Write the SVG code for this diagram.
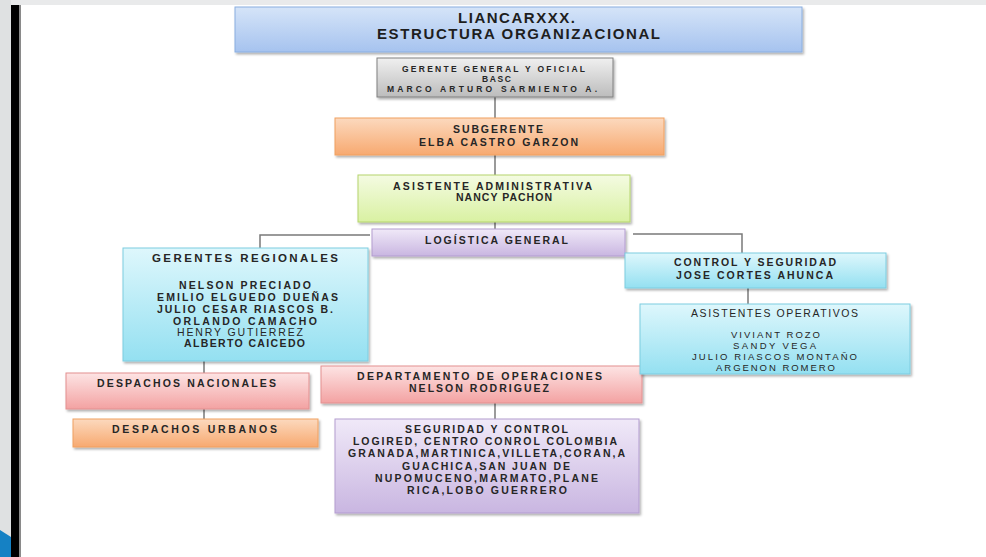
<svg xmlns="http://www.w3.org/2000/svg" width="986" height="557" viewBox="0 0 986 557">
<defs>
<linearGradient id="gBlue" x1="0" y1="0" x2="0" y2="1"><stop offset="0" stop-color="#d5e4f8"/><stop offset="1" stop-color="#a6c3ef"/></linearGradient>
<linearGradient id="gGrey" x1="0" y1="0" x2="0" y2="1"><stop offset="0" stop-color="#f0f0f0"/><stop offset="1" stop-color="#bcbcbc"/></linearGradient>
<linearGradient id="gOrange" x1="0" y1="0" x2="0" y2="1"><stop offset="0" stop-color="#fcd9be"/><stop offset="1" stop-color="#f7a970"/></linearGradient>
<linearGradient id="gGreen" x1="0" y1="0" x2="0" y2="1"><stop offset="0" stop-color="#f4fbe2"/><stop offset="1" stop-color="#d9f1a2"/></linearGradient>
<linearGradient id="gPurple" x1="0" y1="0" x2="0" y2="1"><stop offset="0" stop-color="#f0e9f8"/><stop offset="1" stop-color="#c9b6e1"/></linearGradient>
<linearGradient id="gCyan" x1="0" y1="0" x2="0" y2="1"><stop offset="0" stop-color="#def7fc"/><stop offset="1" stop-color="#94e0f1"/></linearGradient>
<linearGradient id="gPink" x1="0" y1="0" x2="0" y2="1"><stop offset="0" stop-color="#fde4e4"/><stop offset="1" stop-color="#f3a2a2"/></linearGradient>
<filter id="sh" x="-5%" y="-10%" width="110%" height="130%"><feDropShadow dx="1.5" dy="2" stdDeviation="1.2" flood-color="#000" flood-opacity="0.3"/></filter>
</defs>
<style>
.box{filter:url(#sh);stroke-width:1}
.blue{fill:url(#gBlue);stroke:#8aaee0}
.grey{fill:url(#gGrey);stroke:#808080}
.orange{fill:url(#gOrange);stroke:#f0a060}
.green{fill:url(#gGreen);stroke:#b5d46d}
.purple{fill:url(#gPurple);stroke:#b39dd0}
.cyan{fill:url(#gCyan);stroke:#7ccde0}
.pink{fill:url(#gPink);stroke:#e39090}
text{font-family:"Liberation Sans",Arial,sans-serif;font-size:10.5px;font-weight:bold;fill:#262626;text-anchor:middle}
.t{font-size:15px;fill:#1e1e1e}
.h{font-size:11.5px}
.s{font-size:8.5px}
.n{font-weight:normal}
.m{font-size:9.5px}
.c{stroke:#7a7a7a;stroke-width:1.5;fill:none}
</style>
<rect x="0" y="0" width="986" height="557" fill="#ffffff"/>
<rect x="0" y="0" width="986" height="5" fill="#e9eaeb"/>
<rect x="0" y="0" width="11" height="557" fill="#dfe1e2"/>
<rect x="11" y="5" width="8" height="552" fill="#000000"/>
<rect x="19" y="5" width="2" height="552" fill="#8a8a8a"/>
<polygon points="0,530 11,537 11,557 0,557" fill="#1581c4"/>

<g id="connectors">
<path class="c" d="M495 97V118M495 155V175M495 222V229"/>
<path class="c" d="M370 235H260V248"/>
<path class="c" d="M633 234H742V253"/>
<path class="c" d="M204 361V373M204 409V419"/>
<path class="c" d="M495 403V419"/>
<path class="c" d="M748 288V304"/>
</g>

<g id="title">
<rect class="box blue" x="235" y="7" width="567" height="45"/>
<text class="t" x="516.5" y="22.5" textLength="117">LIANCARXXX.</text>
<text class="t" x="518.5" y="38.5" textLength="283">ESTRUCTURA ORGANIZACIONAL</text>
</g>

<g id="gerente-general">
<rect class="box grey" x="377" y="58" width="236" height="39"/>
<text class="s" x="493.5" y="72" textLength="183">GERENTE GENERAL Y OFICIAL</text>
<text class="s" x="496.5" y="82" textLength="29">BASC</text>
<text class="s" x="492" y="92" textLength="210">MARCO ARTURO SARMIENTO A.</text>
</g>

<g id="subgerente">
<rect class="box orange" x="335" y="118" width="329" height="37"/>
<text x="498" y="132.5" textLength="90">SUBGERENTE</text>
<text x="498.5" y="145.5" textLength="159">ELBA CASTRO GARZON</text>
</g>

<g id="asistente-administrativa">
<rect class="box green" x="358" y="175" width="272" height="47"/>
<text x="492.5" y="189.5" textLength="199">ASISTENTE  ADMINISTRATIVA</text>
<text x="504" y="200.5" textLength="96">NANCY PACHON</text>
</g>

<g id="logistica-general">
<rect class="box purple" x="372" y="229" width="253" height="27"/>
<text x="496.5" y="243.5" textLength="143">LOGÍSTICA GENERAL</text>
</g>

<g id="gerentes-regionales">
<rect class="box cyan" x="123" y="248" width="245" height="113"/>
<text class="h" x="245" y="262" textLength="186">GERENTES REGIONALES</text>
<text x="245" y="288.5" textLength="132">NELSON PRECIADO</text>
<text x="247.5" y="300.5" textLength="181">EMILIO ELGUEDO DUEÑAS</text>
<text x="245" y="312.5" textLength="176">JULIO CESAR RIASCOS B.</text>
<text x="245" y="324.5" textLength="144">ORLANDO CAMACHO</text>
<text class="n" x="240" y="335.5" textLength="126">HENRY GUTIERREZ</text>
<text x="244.5" y="346.5" textLength="121">ALBERTO CAICEDO</text>
</g>

<g id="despachos-nacionales">
<rect class="box pink" x="66" y="373" width="243" height="36"/>
<text x="186.5" y="386.5" textLength="179">DESPACHOS NACIONALES</text>
</g>

<g id="despachos-urbanos">
<rect class="box orange" x="73" y="419" width="245" height="28"/>
<text x="194.5" y="432.5" textLength="165">DESPACHOS   URBANOS</text>
</g>

<g id="departamento-operaciones">
<rect class="box pink" x="321" y="366" width="321" height="37"/>
<text x="479.5" y="379.5" textLength="245">DEPARTAMENTO DE  OPERACIONES</text>
<text x="479" y="391.5" textLength="140">NELSON RODRIGUEZ</text>
</g>

<g id="seguridad-control">
<rect class="box purple" x="335" y="419" width="304" height="94"/>
<text x="486.5" y="432.5" textLength="163">SEGURIDAD Y CONTROL</text>
<text x="485" y="444.5" textLength="264">LOGIRED, CENTRO CONROL COLOMBIA</text>
<text x="486.5" y="456.5" textLength="277">GRANADA,MARTINICA,VILLETA,CORAN,A</text>
<text x="486" y="469.5" textLength="168">GUACHICA,SAN JUAN DE</text>
<text x="486.5" y="481.5" textLength="223">NUPOMUCENO,MARMATO,PLANE</text>
<text x="487" y="493.5" textLength="160">RICA,LOBO GUERRERO</text>
</g>

<g id="control-seguridad">
<rect class="box cyan" x="625" y="253" width="261" height="35"/>
<text x="755" y="265.5" textLength="162">CONTROL Y SEGURIDAD</text>
<text x="754.5" y="278.5" textLength="157">JOSE CORTES AHUNCA</text>
</g>

<g id="asistentes-operativos">
<rect class="box cyan" x="640" y="304" width="270" height="70"/>
<text class="n" x="774.5" y="316.5" textLength="167">ASISTENTES  OPERATIVOS</text>
<text class="n m" x="775.5" y="338" textLength="89">VIVIANT ROZO</text>
<text class="n m" x="774.5" y="348.5" textLength="83">SANDY  VEGA</text>
<text class="n m" x="774.5" y="360" textLength="165">JULIO  RIASCOS MONTAÑO</text>
<text class="n m" x="775.5" y="371" textLength="119">ARGENON ROMERO</text>
</g>
</svg>
